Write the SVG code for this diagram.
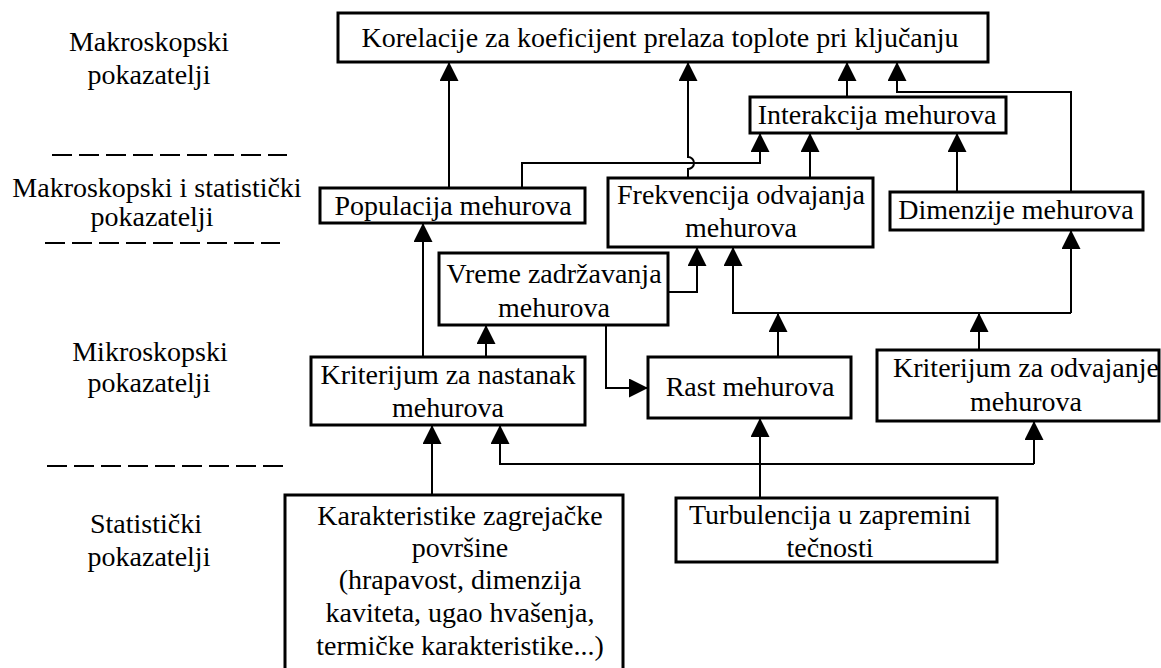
<svg xmlns="http://www.w3.org/2000/svg" width="1161" height="668" viewBox="0 0 1161 668">
<style>
.box{fill:#fff;stroke:#000;stroke-width:3}
.t{font-family:'Liberation Serif',Tinos,'Times New Roman','DejaVu Serif',serif;font-size:28px;fill:#000;text-anchor:middle}
.c{fill:none;stroke:#000;stroke-width:2}
.a{marker-end:url(#ah)}
.d{fill:none;stroke:#000;stroke-width:2;stroke-dasharray:20 7}
</style>
<defs>
<marker id="ah" viewBox="0 0 20 20" refX="20" refY="10" markerWidth="20" markerHeight="19" markerUnits="userSpaceOnUse" orient="auto">
<path d="M0,0 L20,10 L0,20 z" fill="#000"/>
</marker>
</defs>
<rect width="1161" height="668" fill="#fff"/>
<g id="levels">
<text class="t" x="149" y="51">Makroskopski</text>
<text class="t" x="149" y="84">pokazatelji</text>
<line class="d" x1="52" y1="155" x2="287" y2="155"/>
<text class="t" x="157" y="197">Makroskopski i statistički</text>
<text class="t" x="152" y="226">pokazatelji</text>
<line class="d" x1="45" y1="243" x2="280" y2="243"/>
<text class="t" x="150" y="361">Mikroskopski</text>
<text class="t" x="149" y="392">pokazatelji</text>
<line class="d" x1="47" y1="466" x2="283" y2="466"/>
<text class="t" x="146" y="533">Statistički</text>
<text class="t" x="149" y="566">pokazatelji</text>
</g>
<g id="connectors">
<path class="c a" d="M449,188 V62"/>
<path class="c a" d="M688,178 V169 A6,6 0 0 0 688,157 V62"/>
<path class="c a" d="M847,97 V62"/>
<path class="c a" d="M1071,192 V92 H897 V62"/>
<path class="c a" d="M522,188 V163 H760 V133"/>
<path class="c a" d="M810,178 V133"/>
<path class="c a" d="M957,192 V133"/>
<path class="c a" d="M423,357 V223"/>
<path class="c a" d="M486,357 V325"/>
<path class="c a" d="M668,292 H697 V247"/>
<path class="c a" d="M1071,313 H733 V247"/>
<path class="c a" d="M1071,313 V230"/>
<path class="c a" d="M778,357 V313"/>
<path class="c a" d="M979,350 V313"/>
<path class="c a" d="M606,325 V388 H648"/>
<path class="c a" d="M432,495 V425"/>
<path class="c a" d="M1034,464 H500 V425"/>
<path class="c a" d="M1034,464 V421"/>
<path class="c a" d="M760,498 V418"/>
</g>
<g id="korelacije">
<rect class="box" x="338" y="13" width="650" height="49"/>
<text class="t" x="660" y="47">Korelacije za koeficijent prelaza toplote pri ključanju</text>
</g>
<g id="interakcija">
<rect class="box" x="750" y="97" width="256" height="36"/>
<text class="t" x="877" y="124">Interakcija mehurova</text>
</g>
<g id="populacija">
<rect class="box" x="320" y="188" width="265" height="35"/>
<text class="t" x="453" y="215">Populacija mehurova</text>
</g>
<g id="frekvencija">
<rect class="box" x="608" y="178" width="265" height="69"/>
<text class="t" x="741" y="204">Frekvencija odvajanja</text>
<text class="t" x="741" y="237">mehurova</text>
</g>
<g id="dimenzije">
<rect class="box" x="890" y="192" width="253" height="38"/>
<text class="t" x="1016" y="219">Dimenzije mehurova</text>
</g>
<g id="vreme">
<rect class="box" x="439" y="253" width="229" height="72"/>
<text class="t" x="554" y="283">Vreme zadržavanja</text>
<text class="t" x="554" y="317">mehurova</text>
</g>
<g id="kriterijum-nastanak">
<rect class="box" x="311" y="357" width="274" height="68"/>
<text class="t" x="448" y="384">Kriterijum za nastanak</text>
<text class="t" x="448" y="417">mehurova</text>
</g>
<g id="rast">
<rect class="box" x="648" y="357" width="203" height="61"/>
<text class="t" x="750" y="396">Rast mehurova</text>
</g>
<g id="kriterijum-odvajanje">
<rect class="box" x="877" y="350" width="282" height="71"/>
<text class="t" x="1026" y="377">Kriterijum za odvajanje</text>
<text class="t" x="1026" y="411">mehurova</text>
</g>
<g id="karakteristike">
<rect class="box" x="285" y="495" width="338" height="185"/>
<text class="t" x="460" y="525">Karakteristike zagrejačke</text>
<text class="t" x="460" y="557">površine</text>
<text class="t" x="460" y="589">(hrapavost, dimenzija</text>
<text class="t" x="460" y="622">kaviteta, ugao hvašenja,</text>
<text class="t" x="460" y="655">termičke karakteristike...)</text>
</g>
<g id="turbulencija">
<rect class="box" x="676" y="498" width="321" height="64"/>
<text class="t" x="830" y="524">Turbulencija u zapremini</text>
<text class="t" x="830" y="557">tečnosti</text>
</g>
</svg>
